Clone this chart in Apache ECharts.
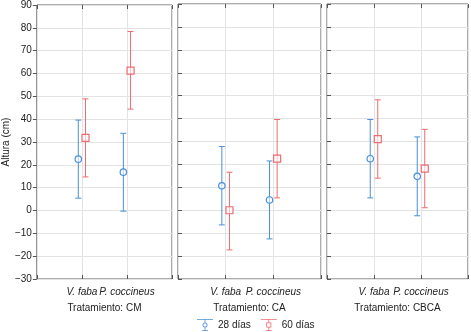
<!DOCTYPE html>
<html>
<head>
<meta charset="utf-8">
<script src="https://cdn.jsdelivr.net/npm/echarts@6/dist/echarts.min.js"></script>
<style>html,body{margin:0;padding:0;background:#fff;}#c{width:471px;height:332px;}</style>
</head>
<body>
<div id="c"></div>
<script>
// ---- data ----
var categories = ['V. faba', 'P. coccineus'];
var panels = ['Tratamiento: CM', 'Tratamiento: CA', 'Tratamiento: CBCA'];
var seriesNames = ['28 días', '60 días'];
var yTicks = [-30, 90, 10]; // min, max, step

// means per panel [V. faba, P. coccineus]
var mean28 = [[22.5, 16.8], [10.7, 4.5], [22.5, 14.8]];
var mean60 = [[31.8, 61.3], [0.0, 22.5], [31.0, 18.2]];
// lower / upper bounds of error bars
var low28 = [[5.4, -0.3], [-6.4, -12.5], [5.4, -2.4]];
var high28 = [[39.6, 33.8], [27.8, 21.5], [39.6, 32.0]];
var low60 = [[14.7, 44.4], [-17.3, 5.4], [14.0, 1.1]];
var high60 = [[48.9, 78.4], [16.6, 39.6], [48.2, 35.3]];

// ---- style ----
var BLUE = '#4a90d8', RED = '#ee6b70';
var FONT = 'Liberation Sans';
var FS = 10;
var gridLefts = [29, 178, 327];
var offset = 0.08;

var grids = [], xAxes = [], yAxes = [], series = [];
panels.forEach(function (title, g) {
  grids.push({left: gridLefts[g], top: 4, width: 143, height: 275, show: true,
    borderColor: '#5a5a5a', borderWidth: 1, backgroundColor: '#fff'});
  xAxes.push({type: 'value', gridIndex: g, min: 0, max: categories.length + 1, interval: 1,
    name: title, nameLocation: 'middle', nameGap: 24,
    nameTextStyle: {fontFamily: FONT, fontSize: FS, color: '#222'},
    axisLine: {show: false, onZero: false},
    axisTick: {inside: true, length: 4, lineStyle: {color: '#555'}},
    splitLine: {show: true, lineStyle: {color: '#e3e3e3', width: 1}},
    axisLabel: {margin: 8, fontFamily: FONT, fontSize: FS, fontStyle: 'italic', color: '#222',
      showMinLabel: true, showMaxLabel: true, hideOverlap: false,
      formatter: function (v) { return (v >= 1 && v <= categories.length && v % 1 === 0) ? categories[v - 1] : ''; }}
  });
  xAxes.push({type: 'value', gridIndex: g, position: 'top', min: 0, max: categories.length + 1, interval: 1,
    axisLine: {show: false, onZero: false}, axisLabel: {show: false}, splitLine: {show: false},
    axisTick: {inside: true, length: 4, lineStyle: {color: '#555'}}});
  yAxes.push({type: 'value', gridIndex: g, min: yTicks[0], max: yTicks[1], interval: yTicks[2],
    name: g === 0 ? 'Altura (cm)' : '', nameLocation: 'middle', nameGap: 21, nameRotate: 90,
    nameTextStyle: {fontFamily: FONT, fontSize: FS, color: '#222'},
    axisLine: {show: false, onZero: false},
    axisTick: {show: true, inside: g !== 0, length: 4, lineStyle: {color: '#555'}},
    splitLine: {show: true, lineStyle: {color: '#e3e3e3', width: 1}},
    axisLabel: {show: g === 0, margin: 5, fontFamily: FONT, fontSize: FS, color: '#222',
      formatter: function (v) { return v < 0 ? '\u2212' + Math.abs(v) : String(v); }}
  });

  [[mean28, low28, high28, BLUE, -offset, 'circle'], [mean60, low60, high60, RED, offset, 'square']].forEach(function (d, s) {
    var data = categories.map(function (c, i) { return [i + 1 + d[4], d[0][g][i], d[1][g][i], d[2][g][i]]; });
    series.push({
      type: 'custom', name: seriesNames[s], xAxisIndex: g * 2, yAxisIndex: g,
      itemStyle: {color: d[3]},
      data: data,
      renderItem: function (params, api) {
        var x = api.value(0);
        var pm = api.coord([x, api.value(1)]);
        var pl = api.coord([x, api.value(2)]);
        var ph = api.coord([x, api.value(3)]);
        var cap = 3;
        var st = {stroke: d[3], lineWidth: 1, fill: 'none'};
        var children = [
          {type: 'line', shape: {x1: pm[0], y1: ph[1], x2: pm[0], y2: pl[1]}, style: st},
          {type: 'line', shape: {x1: pm[0] - cap, y1: ph[1], x2: pm[0] + cap, y2: ph[1]}, style: st},
          {type: 'line', shape: {x1: pm[0] - cap, y1: pl[1], x2: pm[0] + cap, y2: pl[1]}, style: st}
        ];
        if (d[5] === 'circle') {
          children.push({type: 'circle', shape: {cx: pm[0], cy: pm[1], r: 3.2}, style: {stroke: d[3], lineWidth: 1.2, fill: 'rgba(255,255,255,0.6)'}});
        } else {
          children.push({type: 'rect', shape: {x: pm[0] - 3.5, y: pm[1] - 3.5, width: 7, height: 7}, style: {stroke: d[3], lineWidth: 1.2, fill: 'rgba(255,255,255,0.6)'}});
        }
        return {type: 'group', children: children};
      }
    });
  });
});

var iconCircle = 'path://M0,0 L16,0 L16,0.8 L0,0.8 Z M7.6,0.8 L8.4,0.8 L8.4,3.5 L7.6,3.5 Z M7.6,8.5 L8.4,8.5 L8.4,11.2 L7.6,11.2 Z M5,11.2 L11,11.2 L11,12 L5,12 Z M10.5,6 A2.5,2.5 0 1,1 5.5,6 A2.5,2.5 0 1,1 10.5,6 Z M9.7,6 A1.7,1.7 0 1,0 6.3,6 A1.7,1.7 0 1,0 9.7,6 Z';
var iconSquare = 'path://M0,0 L16,0 L16,0.8 L0,0.8 Z M7.6,0.8 L8.4,0.8 L8.4,3.5 L7.6,3.5 Z M7.6,8.5 L8.4,8.5 L8.4,11.2 L7.6,11.2 Z M5,11.2 L11,11.2 L11,12 L5,12 Z M5.5,3.5 L10.5,3.5 L10.5,8.5 L5.5,8.5 Z M6.3,4.3 L6.3,7.7 L9.7,7.7 L9.7,4.3 Z';

var chart = echarts.init(document.getElementById('c'), null, {renderer: 'canvas'});
chart.setOption({
  animation: false,
  backgroundColor: '#fff',
  textStyle: {fontFamily: FONT},
  grid: grids, xAxis: xAxes, yAxis: yAxes, series: series,
  legend: {
    left: 192, top: 314, itemWidth: 16, itemHeight: 12, itemGap: 10, itemTextGap: 5,
    textStyle: {fontFamily: FONT, fontSize: FS, color: '#222'},
    data: [{name: seriesNames[0], icon: iconCircle, itemStyle: {color: BLUE}},
           {name: seriesNames[1], icon: iconSquare, itemStyle: {color: RED}}]
  }
});
</script>
</body>
</html>
